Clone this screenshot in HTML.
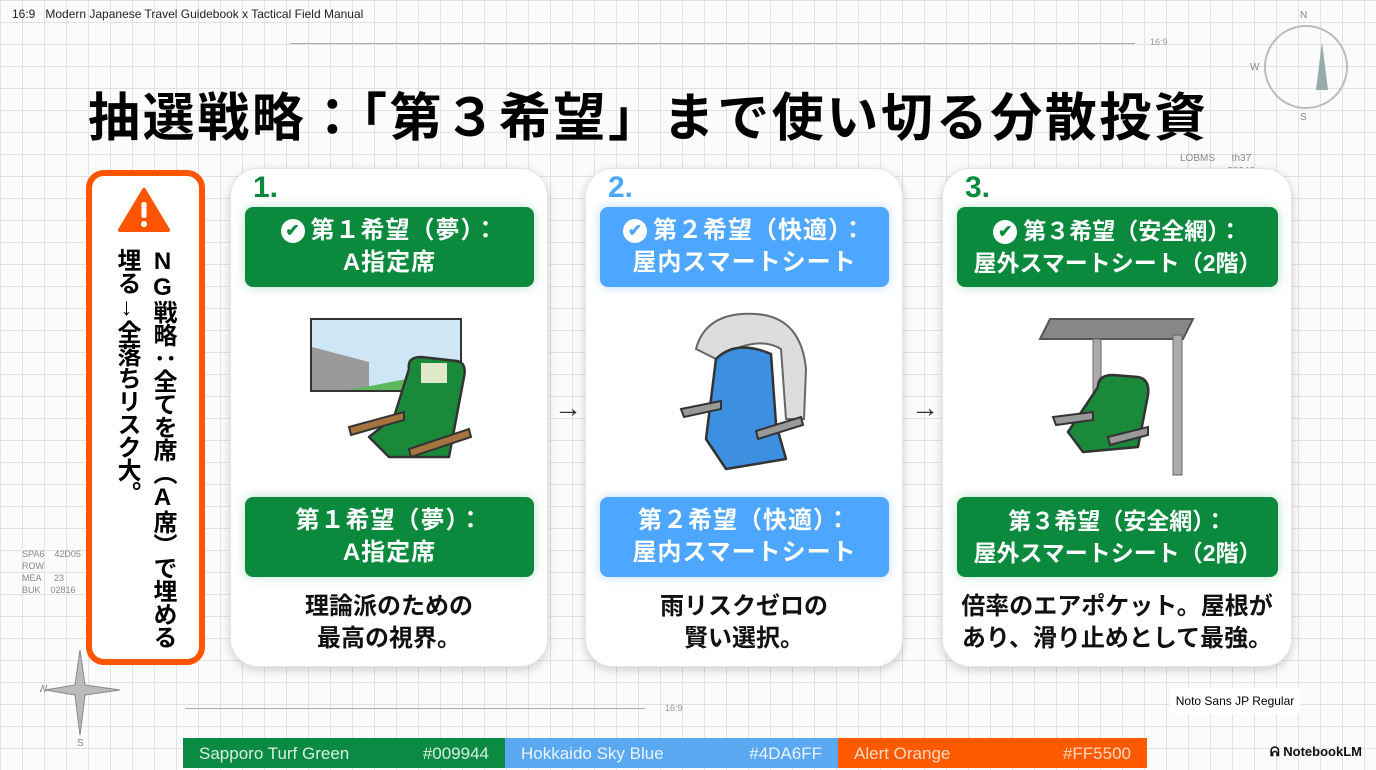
<!DOCTYPE html>
<html><head><meta charset="utf-8"><style>
*{margin:0;padding:0;box-sizing:border-box}
body{width:1376px;height:768px;overflow:hidden;position:relative;font-family:"Liberation Sans","Noto Sans CJK JP",sans-serif;
background-color:#fbfbfb;background-image:linear-gradient(#e2e2e2 1px,transparent 1px),linear-gradient(90deg,#e2e2e2 1px,transparent 1px);background-size:22px 22px;}
.abs{position:absolute}
.card{position:absolute;top:168px;height:499px;background:#fff;border-radius:28px;box-shadow:0 3px 10px rgba(0,0,0,.18);border:1px solid #e5e5e5}
.num{position:absolute;left:22px;top:2px;font-size:30px;font-weight:bold;color:#0b8a3e}
.hb{position:absolute;left:14px;height:80px;border-radius:8px;color:#fff;font-weight:bold;font-size:24px;line-height:32px;text-align:center;padding-top:8px;box-shadow:0 0 10px rgba(0,153,68,.3);letter-spacing:1px;white-space:nowrap}
.g{background:#0b8a3e}.b{background:#4da6ff;box-shadow:0 0 10px rgba(77,166,255,.4)}
.desc{position:absolute;left:0;right:0;top:422px;text-align:center;font-size:24px;font-weight:bold;line-height:32px;color:#111}
.ck{display:inline-block;width:24px;height:24px;border-radius:50%;background:#fff;color:#0b8a3e;font-size:17px;line-height:24px;vertical-align:2px;margin-right:6px;letter-spacing:0}
.arrow{position:absolute;top:392px;font-size:28px;color:#333}
</style></head><body>
<div class="abs" style="left:12px;top:7px;font-size:12px;color:#222">16:9&nbsp;&nbsp;&nbsp;Modern Japanese Travel Guidebook x Tactical Field Manual</div>
<div class="abs" style="left:88px;top:76px;font-size:52px;font-weight:bold;color:#000;letter-spacing:2.6px;white-space:nowrap">抽選戦略：「第３希望」まで使い切る分散投資</div>
<div class="abs" style="left:1264px;top:25px;width:84px;height:84px;border:2px solid #bbb;border-radius:50%"></div>
<div class="abs" style="left:1300px;top:10px;font-size:10px;color:#888">N</div>
<div class="abs" style="left:1300px;top:112px;font-size:10px;color:#888">S</div>
<div class="abs" style="left:1250px;top:62px;font-size:10px;color:#888">W</div>
<div class="abs" style="left:1316px;top:42px;width:0;height:0;border-left:6px solid transparent;border-right:6px solid transparent;border-bottom:48px solid #9aa"></div>
<div class="abs" style="left:1180px;top:152px;font-size:10px;color:#888;line-height:13px">LOBMS&nbsp;&nbsp;&nbsp;&nbsp;&nbsp;&nbsp;th37<br>&nbsp;&nbsp;&nbsp;&nbsp;&nbsp;&nbsp;&nbsp;&nbsp;&nbsp;&nbsp;&nbsp;&nbsp;&nbsp;&nbsp;&nbsp;&nbsp;&nbsp;80040<br>&nbsp;&nbsp;&nbsp;&nbsp;&nbsp;&nbsp;&nbsp;&nbsp;&nbsp;&nbsp;&nbsp;&nbsp;&nbsp;&nbsp;&nbsp;&nbsp;&nbsp;0r/0<br>&nbsp;&nbsp;&nbsp;&nbsp;&nbsp;&nbsp;&nbsp;&nbsp;&nbsp;&nbsp;&nbsp;&nbsp;&nbsp;&nbsp;05:d029</div>
<div class="abs" style="left:22px;top:548px;font-size:9px;color:#888;line-height:12px">SPA6&nbsp;&nbsp;&nbsp;&nbsp;42D05<br>ROW<br>MEA&nbsp;&nbsp;&nbsp;&nbsp;&nbsp;23<br>BUK&nbsp;&nbsp;&nbsp;&nbsp;02816</div>
<div class="abs" style="left:290px;top:43px;width:845px;border-top:1px solid #aaa"></div>
<div class="abs" style="left:185px;top:708px;width:460px;border-top:1px solid #aaa"></div>
<div class="abs" style="left:665px;top:703px;font-size:9px;color:#999">16:9</div>
<div class="abs" style="left:1150px;top:37px;font-size:9px;color:#999">16:9</div>

<div class="abs" style="left:86px;top:170px;width:119px;height:495px;border:6px solid #ff5500;border-radius:18px;background:#fff"></div>
<svg class="abs" style="left:118px;top:187px" width="52" height="46"><path d="M26 3 L50 43 L2 43 Z" fill="#ff5500" stroke="#ff5500" stroke-width="4" stroke-linejoin="round"/><rect x="23.5" y="15" width="5" height="16" rx="2" fill="#fff"/><circle cx="26" cy="37" r="3" fill="#fff"/></svg>
<div class="abs" style="left:108px;top:248px;width:72px;height:410px;writing-mode:vertical-rl;text-orientation:upright;font-size:24px;font-weight:bold;line-height:36px;color:#000;letter-spacing:-1px;white-space:nowrap">NG戦略：全てを席（A席）で埋める<br>埋る↓全落ちリスク大。</div>

<div class="card" style="left:230px;width:318px">
<div class="num">1.</div>
<div class="hb g" style="top:38px;width:289px"><span class="ck">✔</span>第１希望（夢）：<br>A指定席</div>
<svg class="abs" style="left:78px;top:148px" width="170" height="160">
<rect x="2" y="2" width="150" height="72" fill="#cfe6f5" stroke="#333" stroke-width="2"/>
<path d="M3 30 L60 45 L60 73 L3 73 Z" fill="#999"/><path d="M40 73 L150 52 L150 73 Z" fill="#5cb85c"/><path d="M90 73 L150 62 L150 73Z" fill="#b8865a"/>
<path d="M100 52 Q98 40 112 40 L148 44 Q158 46 155 60 L140 140 L80 140 L60 120 L85 100Z" fill="#1a8a3a" stroke="#333" stroke-width="2.5" stroke-linejoin="round"/>
<rect x="112" y="46" width="26" height="20" fill="#dfe8c8"/>
<path d="M40 110 L95 95 L95 103 L42 118Z" fill="#a6743f" stroke="#333" stroke-width="2"/>
<path d="M100 132 L160 112 L162 120 L102 140Z" fill="#a6743f" stroke="#333" stroke-width="2"/>
</svg>
<div class="hb g" style="top:328px;width:289px">第１希望（夢）：<br>A指定席</div>
<div class="desc">理論派のための<br>最高の視界。</div>
</div>
<div class="arrow" style="left:554px">→</div>

<div class="card" style="left:585px;width:318px">
<div class="num" style="color:#4da6ff">2.</div>
<div class="hb b" style="top:38px;width:289px"><span class="ck" style="color:#4da6ff">✔</span>第２希望（快適）：<br>屋内スマートシート</div>
<svg class="abs" style="left:90px;top:140px" width="140" height="170">
<path d="M20 40 Q30 2 80 5 Q125 8 130 60 L128 110 L110 110 L105 40 Q80 25 40 50 Z" fill="#ddd" stroke="#666" stroke-width="2"/>
<path d="M40 50 Q60 30 95 45 L100 115 L110 150 L50 160 L30 130 Z" fill="#3d8fe0" stroke="#333" stroke-width="2.5" stroke-linejoin="round"/>
<path d="M5 100 L45 92 L45 100 L8 108Z" fill="#999" stroke="#333" stroke-width="2"/>
<path d="M80 122 L125 108 L127 116 L82 130Z" fill="#999" stroke="#333" stroke-width="2"/>
</svg>
<div class="hb b" style="top:328px;width:289px">第２希望（快適）：<br>屋内スマートシート</div>
<div class="desc">雨リスクゼロの<br>賢い選択。</div>
</div>
<div class="arrow" style="left:911px">→</div>

<div class="card" style="left:942px;width:350px">
<div class="num">3.</div>
<div class="hb g" style="top:38px;width:321px;font-size:23px;letter-spacing:0"><span class="ck">✔</span>第３希望（安全網）：<br>屋外スマートシート（2階）</div>
<svg class="abs" style="left:95px;top:148px" width="160" height="170">
<path d="M12 2 L155 2 L145 22 L2 22Z" fill="#888" stroke="#555" stroke-width="2"/>
<rect x="55" y="22" width="8" height="60" fill="#aaa" stroke="#666"/>
<rect x="135" y="18" width="9" height="140" fill="#aaa" stroke="#666"/>
<path d="M60 70 Q60 58 75 58 L100 60 Q112 62 110 78 L100 130 L45 135 L30 115 Z" fill="#1a8a3a" stroke="#333" stroke-width="2.5" stroke-linejoin="round"/>
<path d="M15 100 L55 95 L55 103 L18 108Z" fill="#999" stroke="#333" stroke-width="2"/>
<path d="M70 120 L110 110 L110 118 L72 128Z" fill="#999" stroke="#333" stroke-width="2"/>
</svg>
<div class="hb g" style="top:328px;width:321px;font-size:23px;letter-spacing:0">第３希望（安全網）：<br>屋外スマートシート（2階）</div>
<div class="desc">倍率のエアポケット。屋根が<br>あり、滑り止めとして最強。</div>
</div>

<div class="abs" style="left:1170px;top:688px;width:130px;height:26px;background:#fff;font-size:12px;line-height:26px;text-align:center">Noto Sans JP Regular</div>
<div class="abs" style="left:183px;top:738px;width:322px;height:30px;background:#0b8a44;color:#d8f0e0;font-size:17px;line-height:32px;padding:0 16px"><span>Sapporo Turf Green</span><span style="float:right">#009944</span></div>
<div class="abs" style="left:505px;top:738px;width:333px;height:30px;background:#5aa8f0;color:#e8f3ff;font-size:17px;line-height:32px;padding:0 16px"><span>Hokkaido Sky Blue</span><span style="float:right">#4DA6FF</span></div>
<div class="abs" style="left:838px;top:738px;width:309px;height:30px;background:#ff5a00;color:#ffd8c0;font-size:17px;line-height:32px;padding:0 16px"><span>Alert Orange</span><span style="float:right">#FF5500</span></div>
<div class="abs" style="left:1270px;top:744px;font-size:13px;font-weight:bold;color:#111">ᕱ NotebookLM</div>
<svg class="abs" style="left:40px;top:640px" width="90" height="110"><path d="M40 10 L45 45 L80 50 L45 55 L40 95 L35 55 L5 50 L35 45 Z" fill="#bbb" stroke="#888"/><text x="37" y="106" font-size="10" fill="#888">S</text><text x="-2" y="52" font-size="10" fill="#888">W</text></svg>
</body></html>
